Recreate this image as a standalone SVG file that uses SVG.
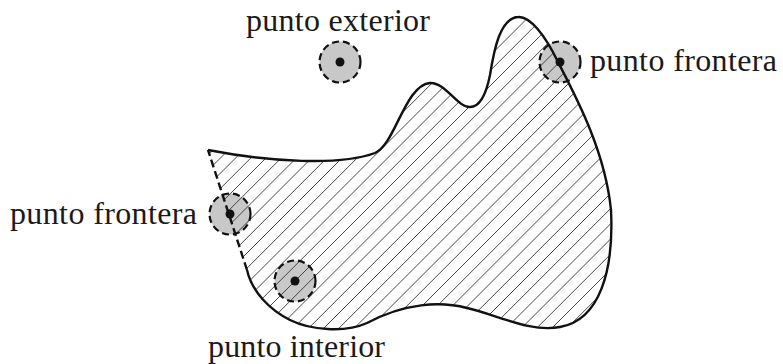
<svg xmlns="http://www.w3.org/2000/svg" width="783" height="364" viewBox="0 0 783 364">
<style>
.lbl{font-family:"Liberation Serif","DejaVu Serif",serif;font-size:32px;fill:#1a1a1a}
.disk{fill:#c8c8c8;stroke:none}
.ring{fill:none;stroke:#111;stroke-width:2.2;stroke-dasharray:7 4}
.dot{fill:#111}
.edge{fill:none;stroke:#111;stroke-width:2.4;stroke-linejoin:miter}
.edge-d{fill:none;stroke:#111;stroke-width:2.4;stroke-dasharray:8 4}
.hatch{fill:none;stroke:#333;stroke-width:0.9}
</style>
<defs>
<clipPath id="regionClip">
<path d="M208,150 C270,162 340,166 375,153 C395,145 405,85 430,83 C445,82 458,108 470,107 C480,107 486,95 490,75 C494,50 500,18 518,17 C530,16 545,35 558,62 C575,95 605,150 611,210 C614,270 600,320 560,327 C530,333 495,314 467,308 C440,301 405,303 367,323 C345,333 310,330 290,320 C270,310 252,292 247,270 Z"/>
</clipPath>
</defs>
<g id="disks">
<circle class="disk" cx="340" cy="62" r="20.5"/>
<circle class="disk" cx="560" cy="62" r="20.5"/>
<circle class="disk" cx="230" cy="214" r="20.5"/>
<circle class="disk" cx="295" cy="281" r="20.5"/>
</g>
<g id="region" clip-path="url(#regionClip)">
<path class="hatch" d="M3.2,360 L363.2,0 M18.4,360 L378.4,0 M33.6,360 L393.6,0 M48.8,360 L408.8,0 M64,360 L424,0 M79.2,360 L439.2,0 M94.4,360 L454.4,0 M109.6,360 L469.6,0 M124.8,360 L484.8,0 M140,360 L500,0 M155.2,360 L515.2,0 M170.4,360 L530.4,0 M185.6,360 L545.6,0 M200.8,360 L560.8,0 M216,360 L576,0 M231.2,360 L591.2,0 M246.4,360 L606.4,0 M261.6,360 L621.6,0 M276.8,360 L636.8,0 M292,360 L652,0 M307.2,360 L667.2,0 M322.4,360 L682.4,0 M337.6,360 L697.6,0 M352.8,360 L712.8,0 M368,360 L728,0 M383.2,360 L743.2,0 M398.4,360 L758.4,0 M413.6,360 L773.6,0 M428.8,360 L788.8,0 M444,360 L804,0 M459.2,360 L819.2,0 M474.4,360 L834.4,0 M489.6,360 L849.6,0 M504.8,360 L864.8,0 M520,360 L880,0 M535.2,360 L895.2,0 M550.4,360 L910.4,0"/>
</g>
<g id="connectors">
<path class="edge" d="M208,150 C270,162 340,166 375,153 C395,145 405,85 430,83 C445,82 458,108 470,107 C480,107 486,95 490,75 C494,50 500,18 518,17 C530,16 545,35 558,62 C575,95 605,150 611,210 C614,270 600,320 560,327 C530,333 495,314 467,308 C440,301 405,303 367,323 C345,333 310,330 290,320 C270,310 252,292 247,270"/>
<path class="edge-d" d="M247,270 L208,150"/>
</g>
<g id="exterior-point">
<circle class="ring" cx="340" cy="62" r="20.5"/>
<circle class="dot" cx="340" cy="62" r="4.5"/>
<text class="lbl" x="246" y="31" textLength="184">punto exterior</text>
</g>
<g id="boundary-point-right">
<circle class="ring" cx="560" cy="62" r="20.5"/>
<circle class="dot" cx="560" cy="62" r="4.5"/>
<text class="lbl" x="590" y="71" textLength="187">punto frontera</text>
</g>
<g id="boundary-point-left">
<circle class="ring" cx="230" cy="214" r="20.5"/>
<circle class="dot" cx="230" cy="214" r="4.5"/>
<text class="lbl" x="10" y="224" textLength="187">punto frontera</text>
</g>
<g id="interior-point">
<circle class="ring" cx="295" cy="281" r="20.5"/>
<circle class="dot" cx="295" cy="281" r="4.5"/>
<text class="lbl" x="208" y="357" textLength="177">punto interior</text>
</g>
</svg>
